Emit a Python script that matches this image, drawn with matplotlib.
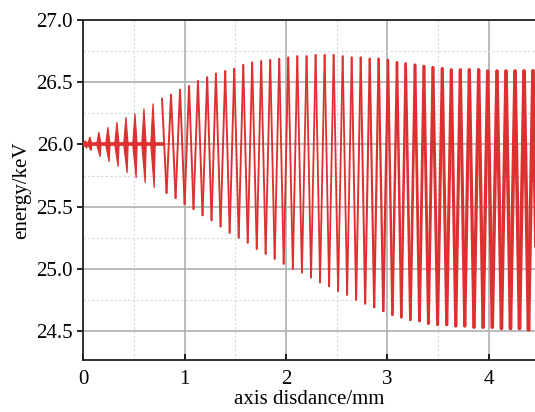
import matplotlib
matplotlib.use("Agg")
import matplotlib.pyplot as plt
import numpy as np
from matplotlib.collections import LineCollection
from matplotlib.ticker import MultipleLocator, FormatStrFormatter

plt.rcParams['font.family'] = ['Liberation Serif', 'DejaVu Serif']

# Anfangsbereich (x < 0.8): schmale, gefüllte Schwingungskeulen um 26.0 keV
lobe_x = [0.020, 0.063, 0.152, 0.241, 0.330, 0.419, 0.508, 0.597, 0.686]
lobe_top = [26.03, 26.06, 26.10, 26.14, 26.18, 26.22, 26.25, 26.29, 26.33]
lobe_bottom = [25.97, 25.95, 25.90, 25.86, 25.82, 25.77, 25.73, 25.69, 25.65]
flat_end = 0.787
flat_level = 26.0

# Maxima der Schwingung ab x = 0.775
peak_x = [0.775, 0.864, 0.953, 1.042, 1.130, 1.221, 1.307, 1.399, 1.488, 1.577,
          1.665, 1.754, 1.843, 1.932, 2.021, 2.110, 2.202, 2.291, 2.380, 2.469,
          2.558, 2.647, 2.736, 2.825, 2.913, 3.005, 3.094, 3.180, 3.272, 3.360,
          3.449, 3.541, 3.630, 3.719, 3.808, 3.900, 3.989, 4.081, 4.170, 4.259,
          4.348, 4.436]
peak_y = [26.37, 26.40, 26.44, 26.47, 26.51, 26.54, 26.57, 26.59, 26.61, 26.64,
          26.66, 26.67, 26.68, 26.69, 26.70, 26.71, 26.71, 26.72, 26.72, 26.72,
          26.71, 26.70, 26.70, 26.69, 26.69, 26.68, 26.66, 26.65, 26.64, 26.63,
          26.62, 26.61, 26.60, 26.60, 26.60, 26.60, 26.59, 26.59, 26.59, 26.59,
          26.59, 26.59]

# Minima, jeweils nach dem zugehörigen Maximum
trough_x = [0.820, 0.909, 0.998, 1.086, 1.175, 1.264, 1.353, 1.443, 1.532, 1.621,
            1.710, 1.798, 1.887, 1.976, 2.066, 2.156, 2.246, 2.335, 2.424, 2.513,
            2.602, 2.691, 2.780, 2.869, 2.959, 3.049, 3.137, 3.226, 3.316, 3.404,
            3.495, 3.585, 3.674, 3.763, 3.854, 3.944, 4.035, 4.125, 4.214, 4.303,
            4.392, 4.480]
trough_y = [25.61, 25.57, 25.52, 25.48, 25.43, 25.39, 25.34, 25.29, 25.25, 25.21,
            25.16, 25.12, 25.08, 25.04, 25.00, 24.97, 24.93, 24.89, 24.86, 24.82,
            24.79, 24.75, 24.72, 24.69, 24.66, 24.63, 24.61, 24.59, 24.58, 24.56,
            24.55, 24.55, 24.54, 24.54, 24.53, 24.53, 24.53, 24.52, 24.52, 24.52,
            24.51, 24.51]

y_ticks = [24.5, 25.0, 25.5, 26.0, 26.5, 27.0]
x_ticks = [0, 1, 2, 3, 4]

RED = '#dd3030'

fig = plt.figure(figsize=(5.35, 4.12), dpi=100)
ax = fig.add_axes([0.156, 0.126, 0.844, 0.825])

# Gitter: durchgezogen bei Haupt-, gepunktet bei Nebenteilung
ax.xaxis.set_major_locator(MultipleLocator(1))
ax.xaxis.set_minor_locator(MultipleLocator(0.5))
ax.yaxis.set_major_locator(MultipleLocator(0.5))
ax.yaxis.set_minor_locator(MultipleLocator(0.25))
ax.grid(which='major', color='#b4b4b4', lw=1.3, zorder=0)
ax.grid(which='minor', color='#d6d6d6', lw=0.8, ls=(0, (2, 2)), zorder=0)
ax.set_axisbelow(True)

# Keulen im Anfangsbereich als gefüllte Spindeln
hw = 0.022
for x, top, bot in zip(lobe_x, lobe_top, lobe_bottom):
    ax.fill([x - hw, x, x + hw, x + 0.012], [flat_level, top, flat_level, bot],
            color=RED, lw=0.8, ec=RED, zorder=3)
ax.plot([0, flat_end], [flat_level, flat_level], color=RED, lw=2.6, zorder=3)

# Zickzack aus Maxima und Minima, nach rechts hin kräftiger
xs, ys = [], []
for px, py, tx, ty in zip(peak_x, peak_y, trough_x, trough_y):
    xs += [px, tx]
    ys += [py, ty]
pts = np.column_stack([xs, ys])
segs = np.stack([pts[:-1], pts[1:]], axis=1)
mid = (pts[:-1, 0] + pts[1:, 0]) / 2
widths = np.interp(mid, [0.8, 2.6, 3.4, 4.5], [1.4, 1.3, 2.1, 2.7])
lc = LineCollection(segs, colors=RED, linewidths=widths, capstyle='round',
                    joinstyle='round', zorder=3)
ax.add_collection(lc)

ax.set_xlim(0, 4.456)
ax.set_ylim(24.265, 27.0)
ax.set_xticks(x_ticks)
ax.set_yticks(y_ticks)
ax.yaxis.set_major_formatter(FormatStrFormatter('%.1f'))

for side in ['left', 'bottom', 'top']:
    ax.spines[side].set_color('#222222')
    ax.spines[side].set_linewidth(1.3)
ax.spines['right'].set_visible(False)

ax.tick_params(axis='x', which='major', direction='in', length=4, width=1.2,
               labelsize=15, pad=7)
ax.tick_params(axis='y', which='major', direction='out', length=4, width=1.2,
               labelsize=15)
ax.tick_params(which='minor', length=0)

ax.set_xlabel('axis disdance/mm', fontsize=15, labelpad=1)
ax.set_ylabel('energy/keV', fontsize=15, labelpad=4)

plt.savefig('out.png', dpi=100)
plt.close()
